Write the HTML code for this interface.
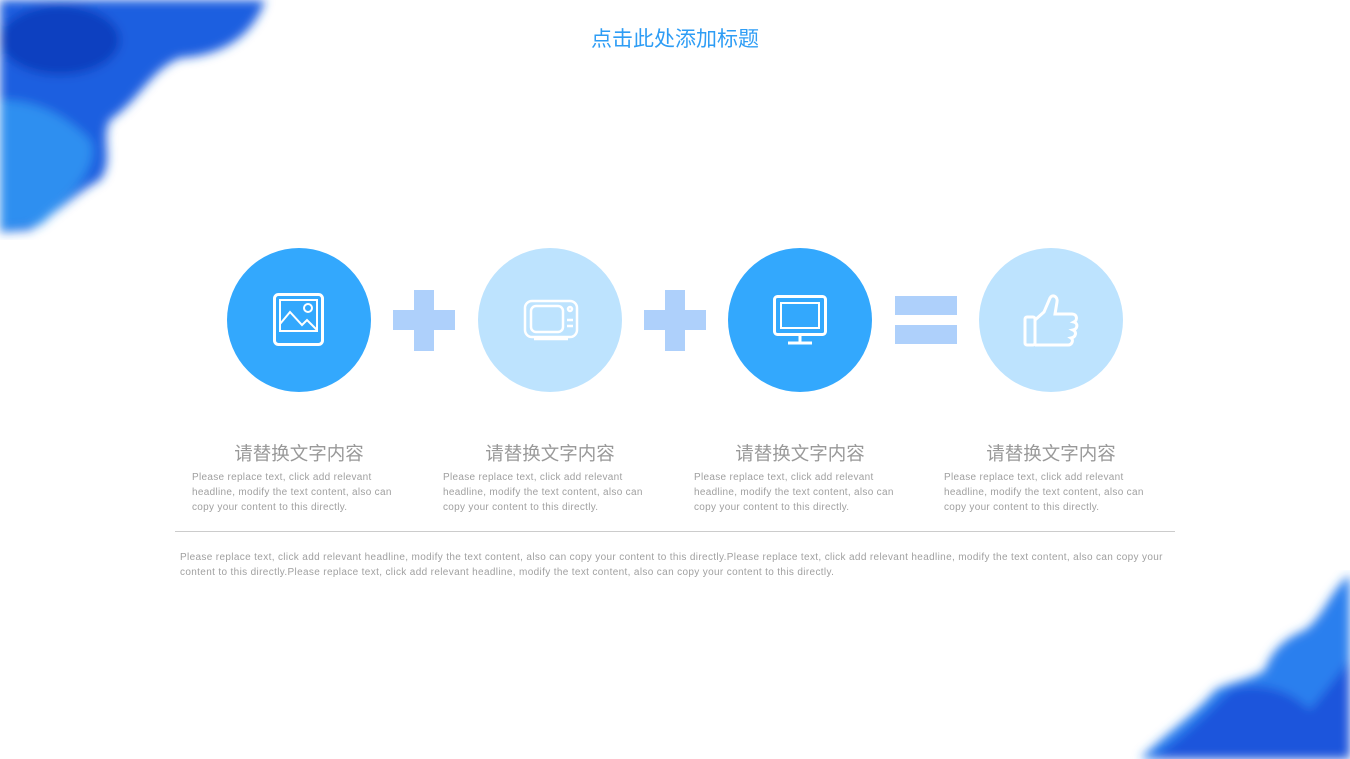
<!DOCTYPE html>
<html><head><meta charset="utf-8"><style>
body{margin:0;width:1350px;height:759px;overflow:hidden;background:#fff;position:relative;font-family:"Liberation Sans","Noto Sans CJK SC",sans-serif}
.a{position:absolute}
.c{position:absolute;width:144px;height:144px;border-radius:50%;top:248px}
.t{position:absolute;top:440px;width:200px;text-align:center;font-size:18.5px;color:#999;font-family:"Liberation Sans","Noto Sans CJK SC",sans-serif}
.p{position:absolute;top:470px;width:240px;font-size:10px;line-height:15px;color:#a0a0a0;white-space:nowrap;letter-spacing:0.3px}
.b{background:#aed0fb;position:absolute}
</style></head><body>
<svg class="a" style="left:0;top:0" width="280" height="240">
<defs><filter id="f"><feGaussianBlur stdDeviation="5"/></filter></defs>
<g filter="url(#f)">
<path d="M0 0 L265 0 C255 30 230 55 180 58 C150 70 140 100 110 120 C100 140 115 160 100 180 C80 190 60 210 30 230 L0 232 Z" fill="#1e5fe0"/>
<path d="M0 100 C30 100 60 110 90 140 C100 160 80 190 40 225 L0 230 Z" fill="#2f8ff0"/>
<ellipse cx="60" cy="40" rx="60" ry="35" fill="#0f3fc0"/>
</g></svg>
<svg class="a" style="left:1130px;top:570px" width="220" height="189">
<defs><filter id="g"><feGaussianBlur stdDeviation="5"/></filter></defs>
<g filter="url(#g)">
<path d="M220 5 C200 20 195 45 175 60 C150 70 140 85 135 100 C120 110 100 112 85 120 C70 140 40 160 10 189 L220 189 Z" fill="#2a7fee"/>
<path d="M220 90 L220 189 L20 189 C50 170 70 150 100 120 C130 110 160 120 180 140 Z" fill="#1b55dc"/>
</g></svg>
<div class="a" style="left:0;top:23px;width:1350px;text-align:center;font-size:21px;color:#2e9df5">点击此处添加标题</div>

<div class="c" style="left:227px;background:#33a8fd"></div>
<div class="c" style="left:478px;background:#bde3fe"></div>
<div class="c" style="left:728px;background:#33a8fd"></div>
<div class="c" style="left:979px;background:#bde3fe"></div>

<svg class="a" style="left:272px;top:292px" width="54" height="56" fill="none" stroke="#fff" stroke-width="3">
<rect x="2.5" y="2.5" width="48" height="50" rx="4"/><rect x="8" y="8" width="37" height="31" stroke-width="2"/>
<polyline points="8,32 18,20 30,33 35,28 45,38" stroke-width="2"/><circle cx="36" cy="16" r="4" stroke-width="2"/></svg>
<svg class="a" style="left:522px;top:298px" width="58" height="44" fill="none" stroke="#fff" stroke-width="2.5">
<rect x="3" y="3" width="52" height="36" rx="7"/><rect x="9" y="8" width="32" height="26" rx="5"/>
<circle cx="48" cy="11" r="2"/><line x1="45" y1="22" x2="51" y2="22"/><line x1="45" y1="28" x2="51" y2="28"/><path d="M12 41 H46"/></svg>
<svg class="a" style="left:772px;top:294px" width="56" height="54" fill="none" stroke="#fff" stroke-width="3">
<rect x="2.5" y="2.5" width="51" height="38" rx="3"/><rect x="9" y="9" width="38" height="25" stroke-width="2"/>
<line x1="28" y1="41" x2="28" y2="48"/><line x1="16" y1="49" x2="40" y2="49"/></svg>
<svg class="a" style="left:1022px;top:292px" width="58" height="58" fill="none" stroke="#fff" stroke-width="3">
<rect x="3" y="25" width="10" height="28" rx="2"/>
<path d="M13 28 L22 20 L28 6 C30 2 36 4 35 10 L33 22 L50 22 C55 22 56 28 52 30 C56 31 56 37 51 38 C55 40 54 45 49 46 C52 48 50 53 46 53 L13 53"/></svg>

<div class="b" style="left:414px;top:290px;width:20px;height:61px"></div>
<div class="b" style="left:393px;top:310px;width:62px;height:20px"></div>
<div class="b" style="left:665px;top:290px;width:20px;height:61px"></div>
<div class="b" style="left:644px;top:310px;width:62px;height:20px"></div>
<div class="b" style="left:895px;top:296px;width:62px;height:19px"></div>
<div class="b" style="left:895px;top:325px;width:62px;height:19px"></div>

<div class="t" style="left:199px">请替换文字内容</div>
<div class="t" style="left:450px">请替换文字内容</div>
<div class="t" style="left:700px">请替换文字内容</div>
<div class="t" style="left:951px">请替换文字内容</div>
<div class="p" style="left:192px">Please replace text, click add relevant<br>headline, modify the text content, also can<br>copy your content to this directly.</div>
<div class="p" style="left:443px">Please replace text, click add relevant<br>headline, modify the text content, also can<br>copy your content to this directly.</div>
<div class="p" style="left:694px">Please replace text, click add relevant<br>headline, modify the text content, also can<br>copy your content to this directly.</div>
<div class="p" style="left:944px">Please replace text, click add relevant<br>headline, modify the text content, also can<br>copy your content to this directly.</div>

<div class="a" style="left:175px;top:531px;width:1000px;height:1px;background:#ccc"></div>
<div class="a" style="left:180px;top:550px;width:1000px;font-size:10px;line-height:15px;color:#a0a0a0;white-space:nowrap;letter-spacing:0.35px">Please replace text, click add relevant headline, modify the text content, also can copy your content to this directly.Please replace text, click add relevant headline, modify the text content, also can copy your<br>content to this directly.Please replace text, click add relevant headline, modify the text content, also can copy your content to this directly.</div>
</body></html>
